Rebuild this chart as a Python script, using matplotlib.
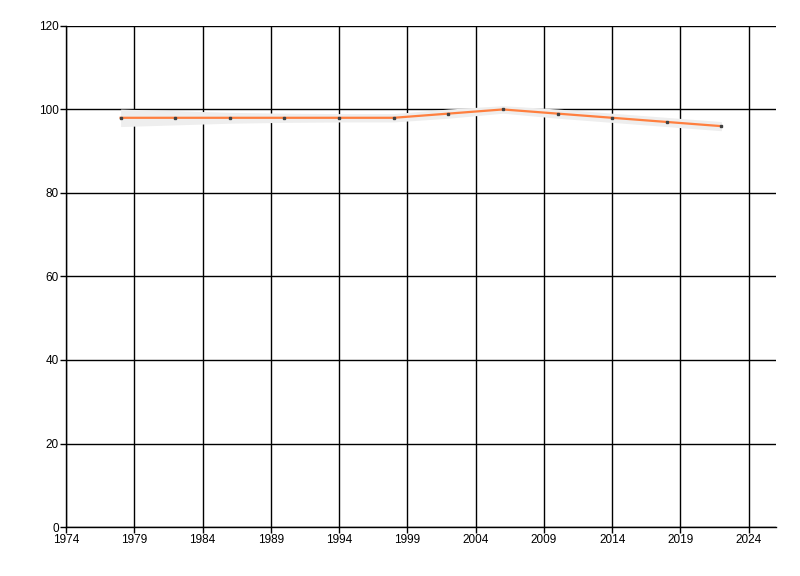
import matplotlib.pyplot as plt

years = [1978, 1982, 1986, 1990, 1994, 1998, 2002, 2006, 2010, 2014, 2018, 2022]
values = [98, 98, 98, 98, 98, 98, 99, 100, 99, 98, 97, 96]
band_lower = [95.9, 96.3, 96.7, 96.9, 97.0, 97.0, 97.9, 99.1, 97.9, 96.9, 95.9, 94.9]
band_upper = [100.1, 99.7, 99.3, 99.1, 99.0, 99.0, 100.1, 100.9, 100.1, 99.1, 98.1, 97.1]
x_ticks = [1974, 1979, 1984, 1989, 1994, 1999, 2004, 2009, 2014, 2019, 2024]
y_ticks = [0, 20, 40, 60, 80, 100, 120]

plt.rcParams["font.family"] = ["Liberation Sans", "DejaVu Sans"]

fig = plt.figure(figsize=(8, 5.76), dpi=100)
ax = fig.add_axes([0.0825, 0.085, 0.8875, 0.87])

ax.fill_between(years, band_lower, band_upper, color="#eeeeee", lw=0, zorder=2)
ax.plot(years, values, color="#ff7f3f", lw=1.6, zorder=3)
ax.plot(years, values, ls="none", marker="s", ms=1.6, color="#404040", zorder=4)

ax.set_xlim(1974, 2026)
ax.set_ylim(0, 120)
ax.set_xticks(x_ticks)
ax.set_yticks(y_ticks)
ax.grid(True, color="black", lw=1)
ax.set_axisbelow(True)
for s in ["top", "right"]:
    ax.spines[s].set_visible(False)
for s in ["left", "bottom"]:
    ax.spines[s].set_linewidth(1)
ax.tick_params(direction="out", length=4, width=1, labelsize=8.5, pad=1)

fig.savefig("out.png", dpi=100)
